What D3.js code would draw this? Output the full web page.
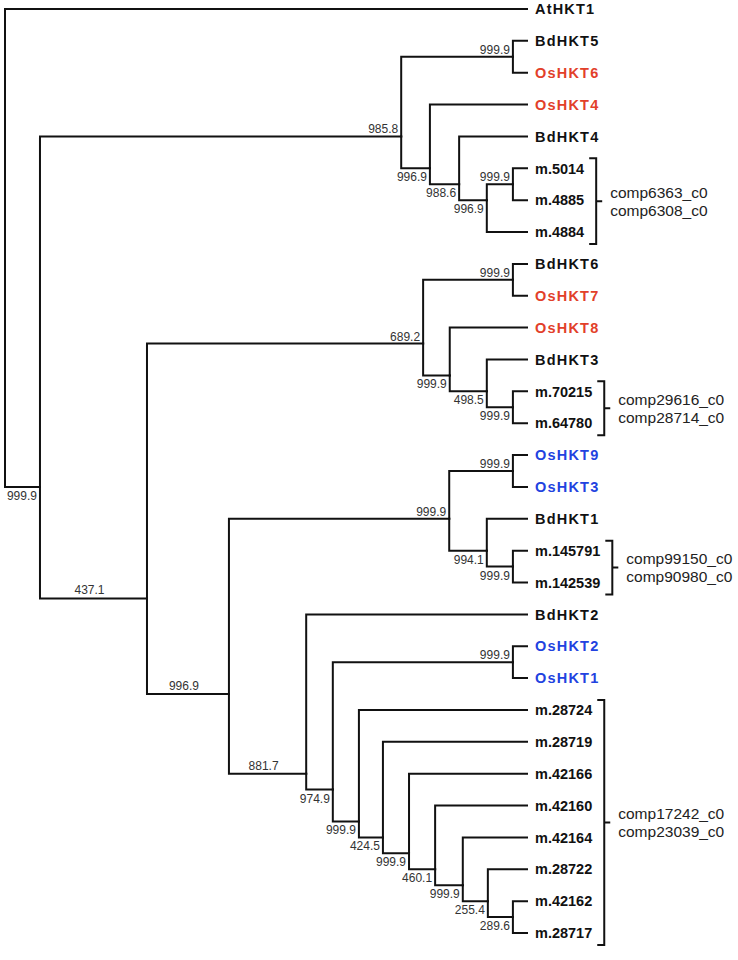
<!DOCTYPE html>
<html lang="en">
<head>
  <meta charset="UTF-8">
  <title>HKT gene tree</title>
  <script src="https://d3js.org/d3.v7.min.js"></script>
  <style>
    body { margin: 0; background: #fff; }
  </style>
</head>
<body>
<div id="chart"></div>
<script>
  // leaves, top to bottom
  const leaves = ["AtHKT1", "BdHKT5", "OsHKT6", "OsHKT4", "BdHKT4", "m.5014", "m.4885", "m.4884",
    "BdHKT6", "OsHKT7", "OsHKT8", "BdHKT3", "m.70215", "m.64780",
    "OsHKT9", "OsHKT3", "BdHKT1", "m.145791", "m.142539",
    "BdHKT2", "OsHKT2", "OsHKT1", "m.28724", "m.28719", "m.42166", "m.42160",
    "m.42164", "m.28722", "m.42162", "m.28717"];

  // parent clade of each leaf (same order as leaves)
  const leafParents = ["n0", "n3", "n3", "n4", "n5", "n7", "n7", "n6",
    "n10", "n10", "n11", "n12", "n13", "n13",
    "n16", "n16", "n17", "n18", "n18",
    "n19", "n21", "n21", "n22", "n23", "n24", "n25",
    "n26", "n27", "n28", "n28"];

  // internal clades: id, parent, bootstrap, branch length (root at 0, tips at 100)
  const clades = [
    ["n0", null, null, 0],
    ["n1", "n0", 999.9, 6.7],
    ["n2", "n1", 985.8, 69.2],
    ["n3", "n2", 999.9, 21.4],
    ["n4", "n2", 996.9, 5.5],
    ["n5", "n4", 988.6, 5.6],
    ["n6", "n5", 996.9, 5.3],
    ["n7", "n6", 999.9, 5.0],
    ["n8", "n1", 437.1, 20.5],
    ["n9", "n8", 689.2, 52.9],
    ["n10", "n9", 999.9, 17.2],
    ["n11", "n9", 999.9, 5.1],
    ["n12", "n11", 498.5, 7.1],
    ["n13", "n12", 999.9, 5.0],
    ["n14", "n8", 996.9, 15.7],
    ["n15", "n14", 999.9, 42.2],
    ["n16", "n15", 999.9, 12.2],
    ["n17", "n15", 994.1, 7.2],
    ["n18", "n17", 999.9, 5.0],
    ["n19", "n14", 881.7, 14.8],
    ["n20", "n19", 974.9, 5.1],
    ["n21", "n20", 999.9, 34.5],
    ["n22", "n20", 999.9, 5.0],
    ["n23", "n22", 424.5, 4.6],
    ["n24", "n23", 999.9, 5.0],
    ["n25", "n24", 460.1, 5.0],
    ["n26", "n25", 999.9, 5.3],
    ["n27", "n26", 255.4, 4.8],
    ["n28", "n27", 289.6, 4.8]
  ];

  // coloured rice genes
  const redLeaves = ["OsHKT6", "OsHKT4", "OsHKT7", "OsHKT8"];
  const blueLeaves = ["OsHKT9", "OsHKT3", "OsHKT2", "OsHKT1"];

  // bracketed transcript groups
  const groupFirst = ["m.5014", "m.70215", "m.145791", "m.28724"];
  const groupLast = ["m.4884", "m.64780", "m.142539", "m.28717"];
  const groupLabels = [
    ["comp6363_c0", "comp6308_c0"],
    ["comp29616_c0", "comp28714_c0"],
    ["comp99150_c0", "comp90980_c0"],
    ["comp17242_c0", "comp23039_c0"]
  ];

  const width = 738, height = 960;

  // build the hierarchy
  const rows = clades.map(c => ({ id: c[0], parentId: c[1], boot: c[2], len: c[3] }))
    .concat(leaves.map((l, i) => ({ id: l, parentId: leafParents[i], boot: null, len: null })));

  const root = d3.stratify().id(d => d.id).parentId(d => d.parentId)(rows);
  const leafIndex = new Map(leaves.map((l, i) => [l, i]));
  root.sort((a, b) => d3.min(a.leaves(), l => leafIndex.get(l.id)) - d3.min(b.leaves(), l => leafIndex.get(l.id)));

  const x = d3.scaleLinear().domain([0, 100]).range([5, 527]);
  const y = d3.scalePoint().domain(leaves).range([9, 933]);

  // horizontal position: cumulative branch length, tips aligned
  root.eachBefore(d => {
    if (!d.children) d.dist = 100;
    else d.dist = (d.parent ? d.parent.dist : 0) + d.data.len;
  });
  // vertical position: mean of the leaves below
  root.eachAfter(d => {
    d.py = d3.mean(d.leaves(), l => y(l.id));
    d.px = x(d.dist);
  });

  const svg = d3.select("#chart").append("svg")
    .attr("width", width)
    .attr("height", height)
    .style("font-family", "'Liberation Sans', Arial, sans-serif");

  // branches
  svg.append("g")
    .attr("fill", "none")
    .attr("stroke", "#111")
    .attr("stroke-width", 2)
    .attr("stroke-linecap", "square")
    .selectAll("path")
    .data(root.links())
    .join("path")
    .attr("d", l => `M${l.source.px},${l.source.py}V${l.target.py}H${l.target.px}`);

  // bootstrap values
  const inner = root.descendants().filter(d => d.children && d.parent);
  svg.append("g")
    .attr("font-size", 12)
    .attr("fill", "#333")
    .selectAll("text")
    .data(inner)
    .join("text")
    .each(function (d) {
      const first = d.parent.children[0] === d;
      const span = d.px - d.parent.px;
      const t = d3.select(this).text(d.data.boot.toFixed(1));
      if (first) {
        t.attr("x", d.px - 3).attr("y", d.py - 3).attr("text-anchor", "end");
      } else if (span > 60) {
        t.attr("x", (d.px + d.parent.px) / 2 - 4).attr("y", d.py - 4).attr("text-anchor", "middle");
      } else {
        t.attr("x", d.px - 3).attr("y", d.py + 13).attr("text-anchor", "end");
      }
    });

  // leaf names
  const leafText = svg.append("g")
    .attr("font-size", 14.5)
    .attr("font-weight", "bold")
    .selectAll("text")
    .data(root.leaves())
    .join("text")
    .attr("x", d => d.px + 8)
    .attr("y", d => d.py)
    .attr("dy", "0.36em")
    .attr("letter-spacing", d => d.id.startsWith("m.") ? 0 : 1.2)
    .attr("fill", d => redLeaves.includes(d.id) ? "#e2402a" : blueLeaves.includes(d.id) ? "#2242e0" : "#111")
    .text(d => d.id);

  const textEnd = new Map();
  leafText.each(function (d) {
    textEnd.set(d.id, d.px + 8 + this.getComputedTextLength());
  });

  // brackets for transcript groups
  const brackets = svg.append("g");
  groupFirst.forEach((f, i) => {
    const i0 = leafIndex.get(f), i1 = leafIndex.get(groupLast[i]);
    const members = leaves.slice(i0, i1 + 1);
    const bx = d3.max(members, m => textEnd.get(m)) + 12;
    const y0 = y(f) - 10, y1 = y(groupLast[i]) + 12, ym = (y0 + y1) / 2;

    brackets.append("path")
      .attr("fill", "none")
      .attr("stroke", "#111")
      .attr("stroke-width", 2)
      .attr("d", `M${bx - 7},${y0}H${bx}V${y1}H${bx - 7}M${bx},${ym}H${bx + 6}`);

    brackets.selectAll(null)
      .data(groupLabels[i])
      .join("text")
      .attr("x", bx + 14)
      .attr("y", (d, j) => ym + (j === 0 ? -9 : 9))
      .attr("dy", "0.36em")
      .attr("font-size", 15.5)
      .attr("fill", "#222")
      .text(d => d);
  });
</script>
</body>
</html>
